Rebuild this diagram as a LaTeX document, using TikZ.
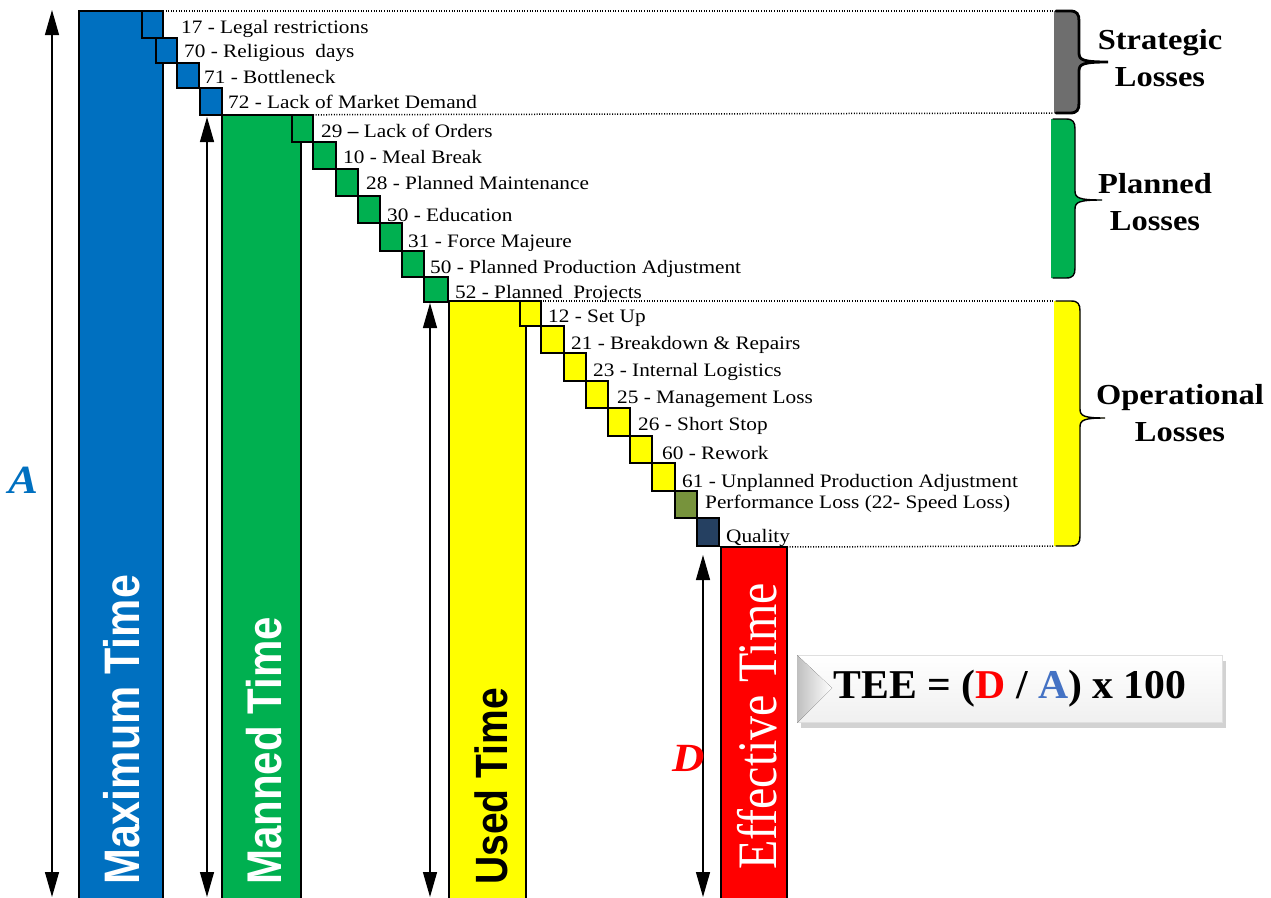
\documentclass[tikz,border=0pt]{standalone}
\usepackage{fontspec}
\setmainfont{Liberation Serif}
\setsansfont{Liberation Sans}
\usepackage{graphicx}
\usetikzlibrary{arrows.meta,shadows}
\definecolor{barblue}{HTML}{0070C0}
\definecolor{bargreen}{HTML}{00B050}
\definecolor{baryellow}{HTML}{FFFF00}
\definecolor{barred}{HTML}{FF0000}
\definecolor{stratgray}{HTML}{6E6E6E}
\definecolor{perfolive}{HTML}{77933C}
\definecolor{qualnavy}{HTML}{254061}
\definecolor{teeblue}{HTML}{4472C4}
\newcommand\hstr[1]{\scalebox{1.12}[1]{#1}}
\newcommand\vstr[1]{\scalebox{1}[1.16]{#1}}
% square: name, x1, y1, x2, y2, colour
\newcommand\lsq[6]{\node[sqbox, fill=#6, minimum width={(#4-#2)*1pt}, minimum height={(#5-#3)*1pt}] (#1) at (#2,#3) {};}
% brace region: name, fill, xl, x0, xt, y1, ym, y2, line width
\newcommand\lossbrace[9]{%
  \coordinate (#1top) at (#3,#6);
  \coordinate (#1bot) at (#3,#8);
  \fill[#2] (#3,#6) -- ({#4-9},#6) .. controls ({#4-2},#6) and (#4,{#6+3}) .. (#4,{#6+10})
    -- (#4,{#7-9}) .. controls (#4,{#7-2}) and ({#4+4},#7) .. (#5,#7)
    .. controls ({#4+4},#7) and (#4,{#7+2}) .. (#4,{#7+9})
    -- (#4,{#8-10}) .. controls (#4,{#8-3}) and ({#4-2},#8) .. ({#4-9},#8) -- (#3,#8) -- cycle;
  \draw[line width=#9, line cap=round] ({#3+2},#6) -- ({#4-9},#6) .. controls ({#4-2},#6) and (#4,{#6+3}) .. (#4,{#6+10})
    -- (#4,{#7-9}) .. controls (#4,{#7-2}) and ({#4+4},#7) .. (#5,#7)
    .. controls ({#4+4},#7) and (#4,{#7+2}) .. (#4,{#7+9})
    -- (#4,{#8-10}) .. controls (#4,{#8-3}) and ({#4-2},#8) .. ({#4-9},#8) -- ({#3+2},#8);}
\begin{document}
\begin{tikzpicture}[x=1pt,y=-1pt,
  bar/.style={draw=black, line width=1.3pt, anchor=north west, inner sep=0pt, outer sep=0pt},
  sqbox/.style={draw=black, line width=1.8pt, anchor=north west, inner sep=0pt, outer sep=0pt},
  lab/.style={anchor=base west, inner sep=0pt, font=\fontsize{19}{23}\selectfont},
  dots/.style={line width=1.5pt, dash pattern=on 1pt off 1.6pt},
  dimarrow/.style={{Triangle[length=25pt,width=14pt]}-{Triangle[length=25pt,width=14pt]}, line width=1.3pt},
  bartext/.style={rotate=90, anchor=base west, inner sep=0pt},
  losslab/.style={align=center, inner sep=0pt, font=\fontsize{29}{37}\selectfont\bfseries},
]
\clip (0,0) rectangle (1271,897);
\fill[white] (0,0) rectangle (1271,897);

% right-hand braces
\lossbrace{st}{stratgray}{1054}{1079}{1108}{11}{62}{113}{2.8pt}
\lossbrace{pl}{bargreen}{1051}{1075}{1102}{119}{200}{278}{1.4pt}
\lossbrace{op}{baryellow}{1054}{1080}{1105}{301}{418}{546}{1.4pt}

% bars
\node[bar, fill=barblue, minimum width=84pt, minimum height=890pt] (maxbar) at (79,11) {};
\node[bar, fill=bargreen, minimum width=79pt, minimum height=790pt] (manbar) at (222,115) {};
\node[bar, fill=baryellow, minimum width=77pt, minimum height=600pt] (usebar) at (449,301) {};
\node[bar, fill=barred, minimum width=66pt, minimum height=360pt] (effbar) at (721,547) {};

% dotted guide lines
\draw[dots] (maxbar.north east) -- (sttop);
\draw[dots] (manbar.north west) -- (stbot);
\draw[dots] (usebar.north west) -- (optop);
\draw[dots] (effbar.north east) -- (opbot);

% squares
\lsq{b1}{142}{11}{163}{38}{barblue}
\lsq{b2}{156}{38}{177}{63}{barblue}
\lsq{b3}{177}{63}{199}{88}{barblue}
\lsq{b4}{200}{88}{222}{115}{barblue}
\lsq{g1}{292}{115}{313}{142}{bargreen}
\lsq{g2}{313}{142}{336}{169}{bargreen}
\lsq{g3}{336}{169}{358}{196}{bargreen}
\lsq{g4}{358}{196}{380}{223}{bargreen}
\lsq{g5}{380}{223}{402}{251}{bargreen}
\lsq{g6}{402}{251}{424}{277}{bargreen}
\lsq{g7}{424}{277}{448}{302}{bargreen}
\lsq{y1}{520}{301}{541}{326}{baryellow}
\lsq{y2}{541}{326}{564}{353}{baryellow}
\lsq{y3}{564}{353}{586}{381}{baryellow}
\lsq{y4}{586}{381}{608}{408}{baryellow}
\lsq{y5}{608}{408}{630}{436}{baryellow}
\lsq{y6}{630}{436}{652}{463}{baryellow}
\lsq{y7}{652}{463}{675}{491}{baryellow}
\lsq{pf}{675}{491}{697}{518}{perfolive}
\lsq{ql}{697}{518}{719}{546}{qualnavy}

% labels
\node[lab] (l17) at (181,33) {\hstr{17 - Legal restrictions}};
\node[lab] (l70) at (184,57) {\hstr{70 - Religious\ \ days}};
\node[lab] (l71) at (204,83) {\hstr{71 - Bottleneck}};
\node[lab] (l72) at (228,108) {\hstr{72 - Lack of Market Demand}};
\node[lab] (l29) at (321,137) {\hstr{29 \textbf{–} Lack of Orders}};
\node[lab] (l10) at (343,163) {\hstr{10 - Meal Break}};
\node[lab] (l28) at (366,189) {\hstr{28 - Planned Maintenance}};
\node[lab] (l30) at (387,221) {\hstr{30 - Education}};
\node[lab] (l31) at (408,247) {\hstr{31 - Force Majeure}};
\node[lab] (l50) at (430,273) {\hstr{50 - Planned Production Adjustment}};
\node[lab] (l52) at (455,298) {\hstr{52 - Planned\ \ Projects}};
\node[lab] (l12) at (548,322) {\hstr{12 - Set Up}};
\node[lab] (l21) at (571,349) {\hstr{21 - Breakdown \& Repairs}};
\node[lab] (l23) at (593,376) {\hstr{23 - Internal Logistics}};
\node[lab] (l25) at (617,403) {\hstr{25 - Management Loss}};
\node[lab] (l26) at (638,430) {\hstr{26 - Short Stop}};
\node[lab] (l60) at (662,459) {\hstr{60 - Rework}};
\node[lab] (l61) at (682,487) {\hstr{61 - Unplanned Production Adjustment}};
\node[lab] (lpf) at (705,508) {\hstr{Performance Loss (22- Speed Loss)}};
\node[lab] (lql) at (726,542) {\hstr{Quality}};

% bar texts
\node[bartext, text=white, font=\fontsize{43}{50}\selectfont\sffamily\bfseries] (tmax) at (139,885) {\vstr{Maximum Time}};
\node[bartext, text=white, font=\fontsize{42}{50}\selectfont\sffamily\bfseries] (tman) at (281,885) {\vstr{Manned Time}};
\node[bartext, text=black, font=\fontsize{39}{46}\selectfont\sffamily\bfseries] (tuse) at (507,885) {\vstr{Used Time}};
\node[bartext, text=white, font=\fontsize{48}{56}\selectfont] (teff) at (776,870) {\vstr{Effective Time}};

% dimension arrows
\coordinate (aTop) at (52,10);
\coordinate (aBot) at (52,897);
\coordinate (mTop) at (207,117);
\coordinate (mBot) at (207,897);
\coordinate (uTop) at (430,303);
\coordinate (uBot) at (430,897);
\coordinate (dTop) at (703,555);
\coordinate (dBot) at (703,897);
\draw[dimarrow] (aTop) -- (aBot);
\draw[dimarrow] (mTop) -- (mBot);
\draw[dimarrow] (uTop) -- (uBot);
\draw[dimarrow] (dTop) -- (dBot);
\node[text=barblue, font=\fontsize{40}{48}\selectfont\itshape\bfseries] (labA) at (23,480) {\hstr{A}};
\node[text=barred, font=\fontsize{40}{48}\selectfont\itshape\bfseries] (labD) at (689,758) {\hstr{D}};

% loss group labels
\node[losslab] (tstrat) at (1160,58) {\hstr{Strategic}\\\hstr{Losses}};
\node[losslab] (tplan) at (1155,202) {\hstr{Planned}\\\hstr{Losses}};
\node[losslab] (toper) at (1180,413) {\hstr{Operational}\\\hstr{Losses}};

% TEE formula box
\node[minimum width=425pt, minimum height=67pt, inner sep=0pt, top color=white, bottom color=gray!12,
      draw=gray!25, line width=0.8pt,
      drop shadow={shadow xshift=3pt, shadow yshift=-5pt, opacity=0.35, fill=gray}] (tee) at (1010,689) {};
\fill[left color=gray!50, right color=white] (tee.north west) -- (832,688) -- (tee.south west) -- cycle;
\node[font=\fontsize{39}{46}\selectfont\bfseries] (teetext) at (tee.center) {\scalebox{1.07}[1.05]{TEE = (\textcolor{barred}{D} / \textcolor{teeblue}{A}) x 100}};
\end{tikzpicture}
\end{document}
